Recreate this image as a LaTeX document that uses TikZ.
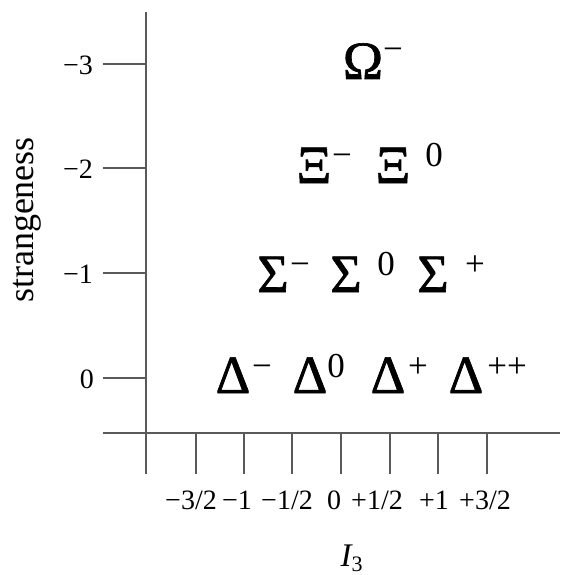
\documentclass[tikz,border=0pt]{standalone}
\usepackage{fontspec}
\setmainfont{Liberation Serif}
\newfontfamily\gkfont[FakeBold=1.2]{Liberation Serif}
\newcommand\myfs[1]{\fontsize{#1}{#1}\selectfont}
\begin{document}
\begin{tikzpicture}[x=1pt,y=-1pt,
  axis/.style={draw=black!65, line width=1.4pt},
  tickline/.style={draw=black!65, line width=1.4pt},
  greek/.style={inner sep=0, anchor=base, font=\gkfont\myfs{54}},
  supr/.style={inner sep=0, anchor=base, font=\myfs{35}},
  ticklbl/.style={inner sep=0, font=\myfs{28}},
]
\useasboundingbox (0,0) rectangle (560,575);
% axes
\coordinate (ytop) at (146,12);
\coordinate (ybot) at (146,474);
\coordinate (xl) at (103,433);
\coordinate (xr) at (560,433);
\draw[axis] (ytop) -- (ybot);
\draw[axis] (xl) -- (xr);
% vertical ticks
\foreach \yy/\nm in {64/a,168/b,273/c,378/d}{
  \coordinate (vt\nm) at (103,\yy);
  \coordinate (va\nm) at (146,\yy);
  \draw[tickline] (vt\nm) -- (va\nm);
}
\node[ticklbl, anchor=east] (ly3) at (93,65) {−3};
\node[ticklbl, anchor=east] (ly2) at (93,169) {−2};
\node[ticklbl, anchor=east] (ly1) at (93,274) {−1};
\node[ticklbl, anchor=east] (ly0) at (94,379) {0};
% horizontal ticks
\foreach \xx/\nm in {196/a,244/b,292/c,341/d,390/e,438/f,487/g}{
  \coordinate (ht\nm) at (\xx,433);
  \coordinate (hb\nm) at (\xx,474);
  \draw[tickline] (ht\nm) -- (hb\nm);
}
\node[ticklbl, anchor=base] (lxa) at (191,509) {−3/2};
\node[ticklbl, anchor=base] (lxb) at (237,509) {−1};
\node[ticklbl, anchor=base] (lxc) at (287,509) {−1/2};
\node[ticklbl, anchor=base] (lxd) at (334,509) {0};
\node[ticklbl, anchor=base] (lxe) at (377,509) {+1/2};
\node[ticklbl, anchor=base] (lxf) at (434,509) {+1};
\node[ticklbl, anchor=base] (lxg) at (485,509) {+3/2};
% axis titles
\node[inner sep=0, anchor=base, font=\myfs{33}\itshape] (I) at (346,566) {I};
\node[inner sep=0, anchor=base, font=\myfs{22}] (I3) at (357,571) {3};
\node[inner sep=0, anchor=base, rotate=90, font=\myfs{36}] (strg) at (33,220) {strangeness};
% Delta row
\node[greek] (dm) at (233,393) {Δ};
\node[supr] (dms) at (262,377) {−};
\node[greek] (d0) at (310,393) {Δ};
\node[supr] (d0s) at (336,377) {0};
\node[greek] (dp) at (388,393) {Δ};
\node[supr] (dps) at (418,377) {+};
\node[greek] (dpp) at (466,393) {Δ};
\node[supr] (dpps) at (507,377) {++};
% Sigma row
\node[greek] (sm) at (273,292) {Σ};
\node[supr] (sms) at (300,275) {−};
\node[greek] (s0) at (346,292) {Σ};
\node[supr] (s0s) at (386,275) {0};
\node[greek] (sp) at (433,292) {Σ};
\node[supr] (sps) at (475,275) {+};
% Xi row
\node[greek] (xm) at (314,183) {Ξ};
\node[supr] (xms) at (342,166) {−};
\node[greek] (x0) at (393,183) {Ξ};
\node[supr] (x0s) at (434,166) {0};
% Omega
\node[greek] (om) at (363,79) {Ω};
\node[supr] (oms) at (393,61) {−};
\end{tikzpicture}
\end{document}
